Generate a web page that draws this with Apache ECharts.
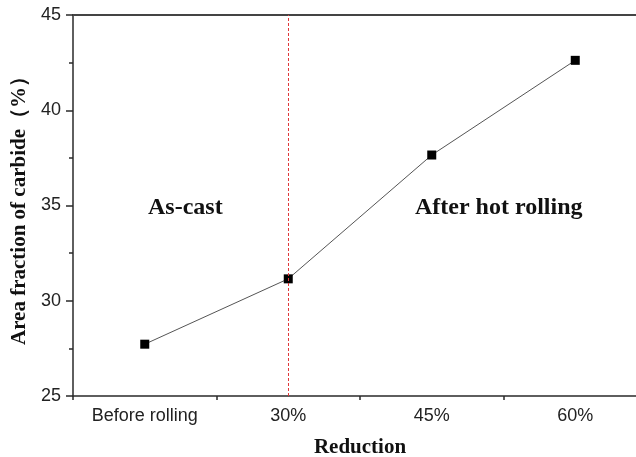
<!DOCTYPE html>
<html>
<head>
<meta charset="utf-8">
<script src="https://cdn.jsdelivr.net/npm/echarts@6/dist/echarts.min.js"></script>
<style>
  html, body { margin: 0; padding: 0; background: #fff; }
  #chart { width: 636px; height: 457px; }
</style>
</head>
<body>
<div id="chart"></div>
<script>
// Carbide area fraction before and after hot rolling
const categories = ['Before rolling', '30%', '45%', '60%'];
const areaFraction = [27.72, 31.15, 37.65, 42.62];
const yTicks = { min: 25, max: 45, interval: 5 };
const dividerCategory = '30%';
const regionLabels = ['As-cast', 'After hot rolling'];

const axisColor = '#2a2a2a';
const serif = '"Liberation Serif", "Times New Roman", serif';
const sans = '"Liberation Sans", Arial, sans-serif';

const chart = echarts.init(document.getElementById('chart'));

chart.setOption({
  animation: false,
  backgroundColor: '#fff',
  // plot frame runs a little past the right edge of the canvas
  grid: { left: 73, top: 15, width: 574, height: 381, outerBoundsMode: 'none', containLabel: false },
  xAxis: [
    {
      type: 'category',
      data: categories,
      boundaryGap: true,
      name: 'Reduction',
      nameLocation: 'middle',
      nameGap: 41,
      nameTextStyle: { fontFamily: serif, fontWeight: 'bold', fontSize: 21, color: '#111' },
      axisLine: { lineStyle: { color: axisColor, width: 1.5 } },
      axisTick: { alignWithLabel: true, inside: false, length: 7, lineStyle: { color: axisColor, width: 1.5 } },
      axisLabel: { fontFamily: sans, fontSize: 18, color: '#222', margin: 11 },
      splitLine: { show: false }
    },
    {
      // minor ticks between categories
      type: 'category',
      data: categories,
      boundaryGap: true,
      position: 'bottom',
      offset: 0,
      axisLine: { show: false },
      axisTick: { show: true, inside: false, length: 4, lineStyle: { color: axisColor, width: 1.5 } },
      axisLabel: { show: false },
      splitLine: { show: false }
    },
    {
      // top frame line
      type: 'category',
      data: categories,
      position: 'top',
      axisLine: { lineStyle: { color: '#444', width: 2 } },
      axisTick: { show: false },
      axisLabel: { show: false },
      splitLine: { show: false }
    }
  ],
  yAxis: {
    type: 'value',
    min: yTicks.min,
    max: yTicks.max,
    interval: yTicks.interval,
    name: 'Area fraction of carbide（%）',
    nameLocation: 'middle',
    nameGap: 39,
    nameTextStyle: { fontFamily: serif, fontWeight: 'bold', fontSize: 21, color: '#111' },
    axisLine: { show: true, lineStyle: { color: axisColor, width: 1.5 } },
    axisTick: { show: true, length: 7, lineStyle: { color: axisColor, width: 1.5 } },
    minorTick: { show: true, splitNumber: 2, length: 4, lineStyle: { color: axisColor, width: 1.5 } },
    axisLabel: { fontFamily: sans, fontSize: 18, color: '#222', margin: 12 },
    splitLine: { show: false }
  },
  series: [
    {
      type: 'line',
      data: areaFraction,
      symbol: 'rect',
      symbolSize: 9,
      itemStyle: { color: '#000' },
      lineStyle: { color: '#555', width: 1 },
      markLine: {
        silent: true,
        symbol: ['none', 'none'],
        label: { show: false },
        lineStyle: { color: '#e0383a', type: [3, 2], width: 1 },
        data: [{ xAxis: dividerCategory }]
      }
    }
  ],
  graphic: [
    {
      type: 'text',
      left: 188 - 40, top: 196,
      style: { text: regionLabels[0], font: 'bold 24px ' + serif, fill: '#111' }
    },
    {
      type: 'text',
      left: 501 - 86, top: 196,
      style: { text: regionLabels[1], font: 'bold 24px ' + serif, fill: '#111' }
    }
  ]
});
</script>
</body>
</html>
